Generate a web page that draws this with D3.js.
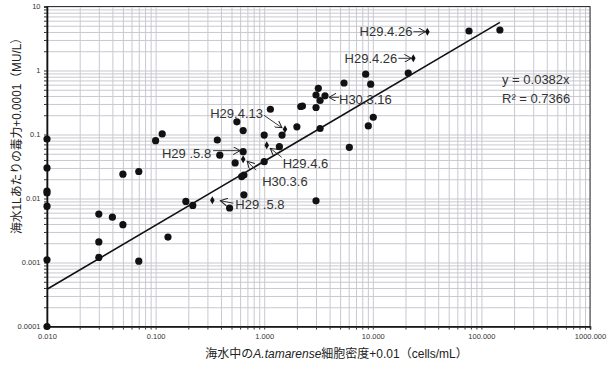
<!DOCTYPE html>
<html>
<head>
<meta charset="utf-8">
<script src="https://cdn.jsdelivr.net/npm/d3@7"></script>
<style>
  body { margin: 0; background: #fff; }
  svg { display: block; font-family: "Liberation Sans", "Noto Sans CJK JP", sans-serif; }
</style>
</head>
<body>
<svg id="chart" width="616" height="367"></svg>
<script>
"use strict";

/* cell density (+0.01) and toxicity (+0.0001) */
const cellDensity = [
  0.01, 0.01, 0.01, 0.01, 0.01, 0.01, 0.01,
  0.03, 0.04, 0.05, 0.03, 0.03, 0.07, 0.05, 0.07, 0.1, 0.115, 0.13,
  0.19, 0.22, 0.48, 0.65, 3.0, 0.56, 0.64, 0.37, 0.39, 0.64, 0.54, 0.62, 0.65,
  1.14, 1.0, 1.0, 1.38, 1.46, 2.0, 2.17, 2.25, 3.0, 3.0, 3.15, 3.27, 3.63, 3.27,
  5.43, 6.08, 8.6, 9.56, 10.1, 9.09, 21.2, 76.9, 148
];
const toxicity = [
  0.085, 0.030, 0.0131, 0.0122, 0.0076, 0.0011, 0.0001,
  0.0057, 0.0051, 0.0039, 0.0021, 0.0012, 0.00105, 0.024, 0.0264, 0.080, 0.102, 0.0025,
  0.0090, 0.0078, 0.0071, 0.0114, 0.0092, 0.158, 0.115, 0.082, 0.0475, 0.054, 0.036, 0.022, 0.0233,
  0.248, 0.098, 0.0376, 0.0645, 0.098, 0.132, 0.274, 0.279, 0.264, 0.414, 0.527, 0.340, 0.402, 0.124,
  0.638, 0.063, 0.876, 0.611, 0.186, 0.136, 0.914, 4.14, 4.29
];

/* highlighted samples (diamonds) */
const markedDensity = [0.333, 0.64, 1.055, 1.554, 23.6, 31.8];
const markedToxicity = [0.0094, 0.041, 0.0678, 0.1206, 1.55, 4.04];

/* annotations: label, target point */
const noteLabels = ["H29 .5.8", "H30.3.6", "H29.4.6", "H29.4.13", "H29 .5.8", "H30.3.16", "H29.4.26", "H29.4.26"];
const noteX = [0.333, 0.64, 1.055, 1.554, 0.64, 3.63, 23.6, 31.8];
const noteY = [0.0094, 0.041, 0.0678, 0.1206, 0.054, 0.402, 1.55, 4.04];

const trendSlope = 0.0382;
const rSquared = 0.7366;

const xTickValues = [0.01, 0.1, 1, 10, 100, 1000];
const yTickValues = [0.0001, 0.001, 0.01, 0.1, 1, 10];
const yTickLabels = ["0.0001", "0.001", "0.01", "0.1", "1", "10"];

let svg = d3.select('svg#chart');
let plot = { left: 47, right: 590, top: 6.5, bottom: 326.5 };

let x = d3.scaleLog().domain([0.01, 1000]).range([plot.left, plot.right]);
let y = d3.scaleLog().domain([0.0001, 10]).range([plot.bottom, plot.top]);

/* every 1..9 step of each decade */
const minorOf = (lo, hi) => {
  let out = [];
  for (let e = Math.log10(lo); e < Math.log10(hi); e++)
    for (let m = 1; m <= 9; m++) out.push(+(m * Math.pow(10, e)).toPrecision(3));
  out.push(hi);
  return out;
};
let xAll = minorOf(0.01, 1000);
let yAll = minorOf(0.0001, 10);

/* grid */
svg.append('g')
   .attr('transform', `translate(0,${plot.bottom})`)
   .call(d3.axisBottom(x).tickValues(xAll).tickSize(-(plot.bottom - plot.top)).tickFormat(''))
   .call(g => g.select('.domain').remove())
   .call(g => g.selectAll('line').attr('stroke', '#c8c8d0').attr('stroke-width', 1));
svg.append('g')
   .attr('transform', `translate(${plot.left},0)`)
   .call(d3.axisLeft(y).tickValues(yAll).tickSize(-(plot.right - plot.left)).tickFormat(''))
   .call(g => g.select('.domain').remove())
   .call(g => g.selectAll('line').attr('stroke', '#c8c8d0').attr('stroke-width', 1));

/* frame */
svg.append('rect')
   .attr('x', plot.left).attr('y', plot.top)
   .attr('width', plot.right - plot.left).attr('height', plot.bottom - plot.top)
   .attr('fill', 'none').attr('stroke', '#333').attr('stroke-width', 1);

/* axes */
let xAxis = svg.append('g')
   .attr('transform', `translate(0,${plot.bottom})`)
   .call(d3.axisBottom(x).tickValues(xAll).tickSize(3).tickPadding(4)
     .tickFormat(d => xTickValues.includes(d) ? d3.format('.3f')(d) : ''));
let yAxis = svg.append('g')
   .attr('transform', `translate(${plot.left},0)`)
   .call(d3.axisLeft(y).tickValues(yAll).tickSize(3).tickPadding(3.5)
     .tickFormat(d => { let i = yTickValues.indexOf(d); return i >= 0 ? yTickLabels[i] : ''; }));
[xAxis, yAxis].forEach(a => {
  a.select('.domain').attr('stroke', '#111').attr('stroke-width', 1.6);
  a.selectAll('line').attr('stroke', '#333');
  a.selectAll('text').style('font-size', '7.5px').attr('fill', '#333')
   .style('font-family', '"Liberation Sans", sans-serif');
});

/* trend line y = a x over the data range */
let xMin = d3.min(cellDensity), xMax = d3.max(cellDensity);
svg.append('line')
   .attr('x1', x(xMin)).attr('y1', y(trendSlope * xMin))
   .attr('x2', x(xMax)).attr('y2', y(trendSlope * xMax))
   .attr('stroke', '#111').attr('stroke-width', 1.6);

/* points */
svg.append('g').selectAll('circle')
   .data(cellDensity.map((d, i) => [d, toxicity[i]]))
   .enter()
   .append('circle')
   .attr('cx', d => x(d[0]))
   .attr('cy', d => y(d[1]))
   .attr('r', 3.6)
   .attr('fill', '#111');

svg.append('g').selectAll('path')
   .data(markedDensity.map((d, i) => [d, markedToxicity[i]]))
   .enter()
   .append('path')
   .attr('d', d3.symbol().type(d3.symbolDiamond).size(18))
   .attr('transform', d => `translate(${x(d[0])},${y(d[1])})`)
   .attr('fill', '#111');

/* arrow head */
svg.append('defs').append('marker')
   .attr('id', 'arrow')
   .attr('viewBox', '0 0 8 8')
   .attr('refX', 7).attr('refY', 4)
   .attr('markerWidth', 8).attr('markerHeight', 8)
   .attr('markerUnits', 'userSpaceOnUse')
   .attr('orient', 'auto')
   .append('path')
   .attr('d', 'M0,0 L7,4 L0,8')
   .attr('fill', 'none').attr('stroke', '#222').attr('stroke-width', 1);

/* label layout relative to the target: text offset, anchor, arrow start / end offsets */
let noteLayout = [
  { tx: 23, ty: 4, anchor: 'start', a: [21, 3], b: [8, 0.5] },
  { tx: 19, ty: 22, anchor: 'start', a: [13, 11], b: [4, 2] },
  { tx: 16, ty: 18, anchor: 'start', a: [15, 12], b: [3.5, 3] },
  { tx: -22, ty: -16, anchor: 'end', a: [-21, -14], b: [-3, -1.5] },
  { tx: -32, ty: 1.5, anchor: 'end', a: [-30, -1], b: [-3, -1] },
  { tx: 14, ty: 3.5, anchor: 'start', a: [14, 1.5], b: [4, 1.5] },
  { tx: -16, ty: 0, anchor: 'end', a: [-15, 0], b: [-2, 0] },
  { tx: -15, ty: 0, anchor: 'end', a: [-14, 0], b: [-2, 0] }
];

noteLabels.forEach((label, i) => {
  let px = x(noteX[i]), py = y(noteY[i]);
  let L = noteLayout[i];
  svg.append('line')
     .attr('x1', px + L.a[0]).attr('y1', py + L.a[1])
     .attr('x2', px + L.b[0]).attr('y2', py + L.b[1])
     .attr('stroke', '#222').attr('stroke-width', 0.9)
     .attr('marker-end', 'url(#arrow)');
  svg.append('text')
     .attr('x', px + L.tx).attr('y', py + L.ty)
     .attr('dy', '0.35em')
     .attr('text-anchor', L.anchor)
     .style('font-size', '13px')
     .attr('fill', '#333')
     .text(label);
});

/* regression text */
svg.append('text')
   .attr('x', 502).attr('y', 79).attr('dy', '0.35em')
   .style('font-size', '13px').attr('fill', '#333')
   .text(`y = ${trendSlope}x`);
svg.append('text')
   .attr('x', 502).attr('y', 98.5).attr('dy', '0.35em')
   .style('font-size', '13px').attr('fill', '#333')
   .text(`R² = ${rSquared}`);

/* axis titles */
let xt = svg.append('text')
   .attr('x', 336.5).attr('y', 354).attr('dy', '0.35em')
   .attr('text-anchor', 'middle')
   .style('font-size', '12px').attr('fill', '#222');
xt.append('tspan').text('海水中の');
xt.append('tspan').style('font-style', 'italic').text('A.tamarense');
xt.append('tspan').text('細胞密度+0.01（cells/mL）');

svg.append('text')
   .attr('transform', 'translate(17,133) rotate(-90)')
   .attr('dy', '0.35em')
   .attr('text-anchor', 'middle')
   .attr('textLength', 202)
   .attr('lengthAdjust', 'spacingAndGlyphs')
   .style('font-size', '12px').attr('fill', '#222')
   .text('海水1Lあたりの毒力+0.0001（MU/L）');
</script>
</body>
</html>
